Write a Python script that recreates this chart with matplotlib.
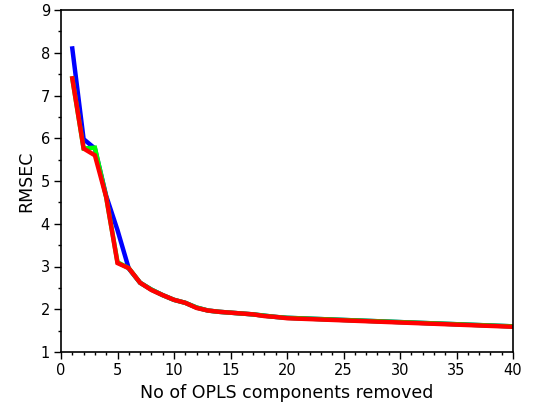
import matplotlib
matplotlib.use("Agg")
import matplotlib.pyplot as plt
from matplotlib.ticker import MultipleLocator

components = list(range(1, 41))
rmsec_blue = [8.10, 5.98, 5.76, 4.65, 3.85, 2.95, 2.62, 2.46, 2.33, 2.22, 2.15, 2.04, 1.97, 1.94, 1.92, 1.90, 1.88, 1.85, 1.82, 1.80,
              1.79, 1.78, 1.77, 1.76, 1.75, 1.74, 1.73, 1.72, 1.71, 1.70, 1.69, 1.68, 1.67, 1.66, 1.65, 1.64, 1.63, 1.62, 1.61, 1.60]
rmsec_green = [7.40, 5.76, 5.78, 4.62, 3.10, 2.96, 2.62, 2.46, 2.33, 2.22, 2.15, 2.04, 1.97, 1.94, 1.92, 1.90, 1.88, 1.85, 1.82, 1.80,
               1.79, 1.78, 1.77, 1.76, 1.75, 1.74, 1.73, 1.72, 1.71, 1.70, 1.69, 1.68, 1.67, 1.66, 1.65, 1.64, 1.63, 1.62, 1.61, 1.60]
rmsec_red = [7.40, 5.76, 5.60, 4.62, 3.08, 2.96, 2.62, 2.45, 2.33, 2.22, 2.15, 2.03, 1.97, 1.94, 1.92, 1.90, 1.88, 1.84, 1.82, 1.79,
             1.78, 1.77, 1.76, 1.75, 1.74, 1.73, 1.72, 1.71, 1.70, 1.69, 1.68, 1.67, 1.66, 1.65, 1.64, 1.63, 1.62, 1.61, 1.60, 1.59]

fig = plt.figure(figsize=(5.39, 4.12), dpi=100)
ax = fig.add_axes([61/539, 1-352/412, (513-61)/539, (352-10)/412])

ax.plot(components, rmsec_blue, color="#0000ff", lw=3.2, solid_joinstyle="miter")
ax.plot(components, rmsec_green, color="#00ff00", lw=3.2, solid_joinstyle="miter")
ax.plot(components, rmsec_red, color="#ff0000", lw=3.2, solid_joinstyle="miter")

ax.set_xlim(0, 40)
ax.set_ylim(1, 9)
ax.xaxis.set_major_locator(MultipleLocator(5))
ax.xaxis.set_minor_locator(MultipleLocator(1))
ax.yaxis.set_major_locator(MultipleLocator(1))
ax.yaxis.set_minor_locator(MultipleLocator(0.5))
ax.tick_params(which="major", direction="out", length=5, width=1, labelsize=10.5, pad=3)
ax.tick_params(which="minor", direction="out", length=2.5, width=1)
ax.tick_params(top=False, right=False)
for s in ax.spines.values():
    s.set_linewidth(1.2)

ax.set_xlabel("No of OPLS components removed", fontsize=12.5)
ax.set_ylabel("RMSEC", fontsize=12.5)

fig.savefig("out.png", dpi=100)
